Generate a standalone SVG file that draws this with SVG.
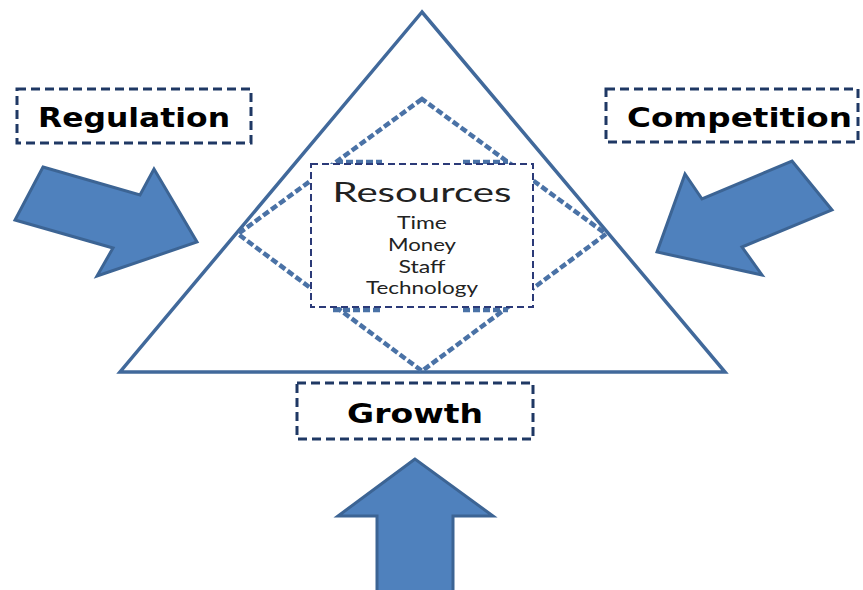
<svg xmlns="http://www.w3.org/2000/svg" width="863" height="590" viewBox="0 0 863 590">
<defs>
<style>
.lbl{fill:none;stroke:#1f3864;stroke-width:3;stroke-dasharray:9 5}
.ltxt{font-family:"DejaVu Sans","Verdana",sans-serif;font-weight:bold;font-size:27px;fill:#000}
.arrow{fill:#4f81bd;stroke:#3c6494;stroke-width:3;stroke-linejoin:miter}
.tri{fill:none;stroke:#41699b;stroke-width:3.5;stroke-linejoin:miter}
.dia{fill:none;stroke:#4a72a6;stroke-width:4.5;stroke-dasharray:7 3}
.res{fill:#fff;stroke:#2b3a78;stroke-width:2;stroke-dasharray:7 4}
.rtxt{font-family:"Lato","Open Sans",sans-serif;fill:#222;text-anchor:middle}
</style>
</defs>
<rect width="863" height="590" fill="#fff"/>
<g id="triangle">
<polygon class="tri" points="422,12 120,372 725,372"/>
</g>
<g id="diamond">
<polygon class="dia" points="422,99 238,234 422,371 606,234"/>
<line class="dia" x1="336" y1="162" x2="382" y2="162"/>
<line class="dia" x1="463" y1="162" x2="508" y2="162"/>
<line class="dia" x1="333" y1="310" x2="383" y2="310"/>
<line class="dia" x1="463" y1="310" x2="508" y2="310"/>
</g>
<g id="resources">
<rect class="res" x="311" y="164" width="222" height="143"/>
<text class="rtxt" x="422" y="202" font-size="27" textLength="179" lengthAdjust="spacingAndGlyphs">Resources</text>
<text class="rtxt" x="422" y="229" font-size="18" textLength="50" lengthAdjust="spacingAndGlyphs">Time</text>
<text class="rtxt" x="422" y="251" font-size="18" textLength="68" lengthAdjust="spacingAndGlyphs">Money</text>
<text class="rtxt" x="422" y="273" font-size="18" textLength="47" lengthAdjust="spacingAndGlyphs">Staff</text>
<text class="rtxt" x="422" y="294" font-size="18" textLength="112" lengthAdjust="spacingAndGlyphs">Technology</text>
</g>
<g id="regulation">
<rect class="lbl" x="17" y="89" width="234" height="54"/>
<text class="ltxt" x="38" y="127" textLength="192" lengthAdjust="spacingAndGlyphs">Regulation</text>
</g>
<g id="competition">
<rect class="lbl" x="606" y="89" width="252" height="53"/>
<text class="ltxt" x="627" y="127" textLength="225" lengthAdjust="spacingAndGlyphs">Competition</text>
</g>
<g id="growth">
<rect class="lbl" x="297" y="383" width="236" height="56"/>
<text class="ltxt" x="347" y="423" textLength="136" lengthAdjust="spacingAndGlyphs">Growth</text>
</g>
<g id="connectors">
<polygon class="arrow" points="43,167 140,195 154,169 197,242 97,276 113,248 15,220"/>
<polygon class="arrow" points="792,161 832,210 742,247 762,275 657,252 685,174 702,199"/>
<polygon class="arrow" points="415,459 338,516 377,516 377,592 453,592 453,516 493,516"/>
</g>
</svg>
